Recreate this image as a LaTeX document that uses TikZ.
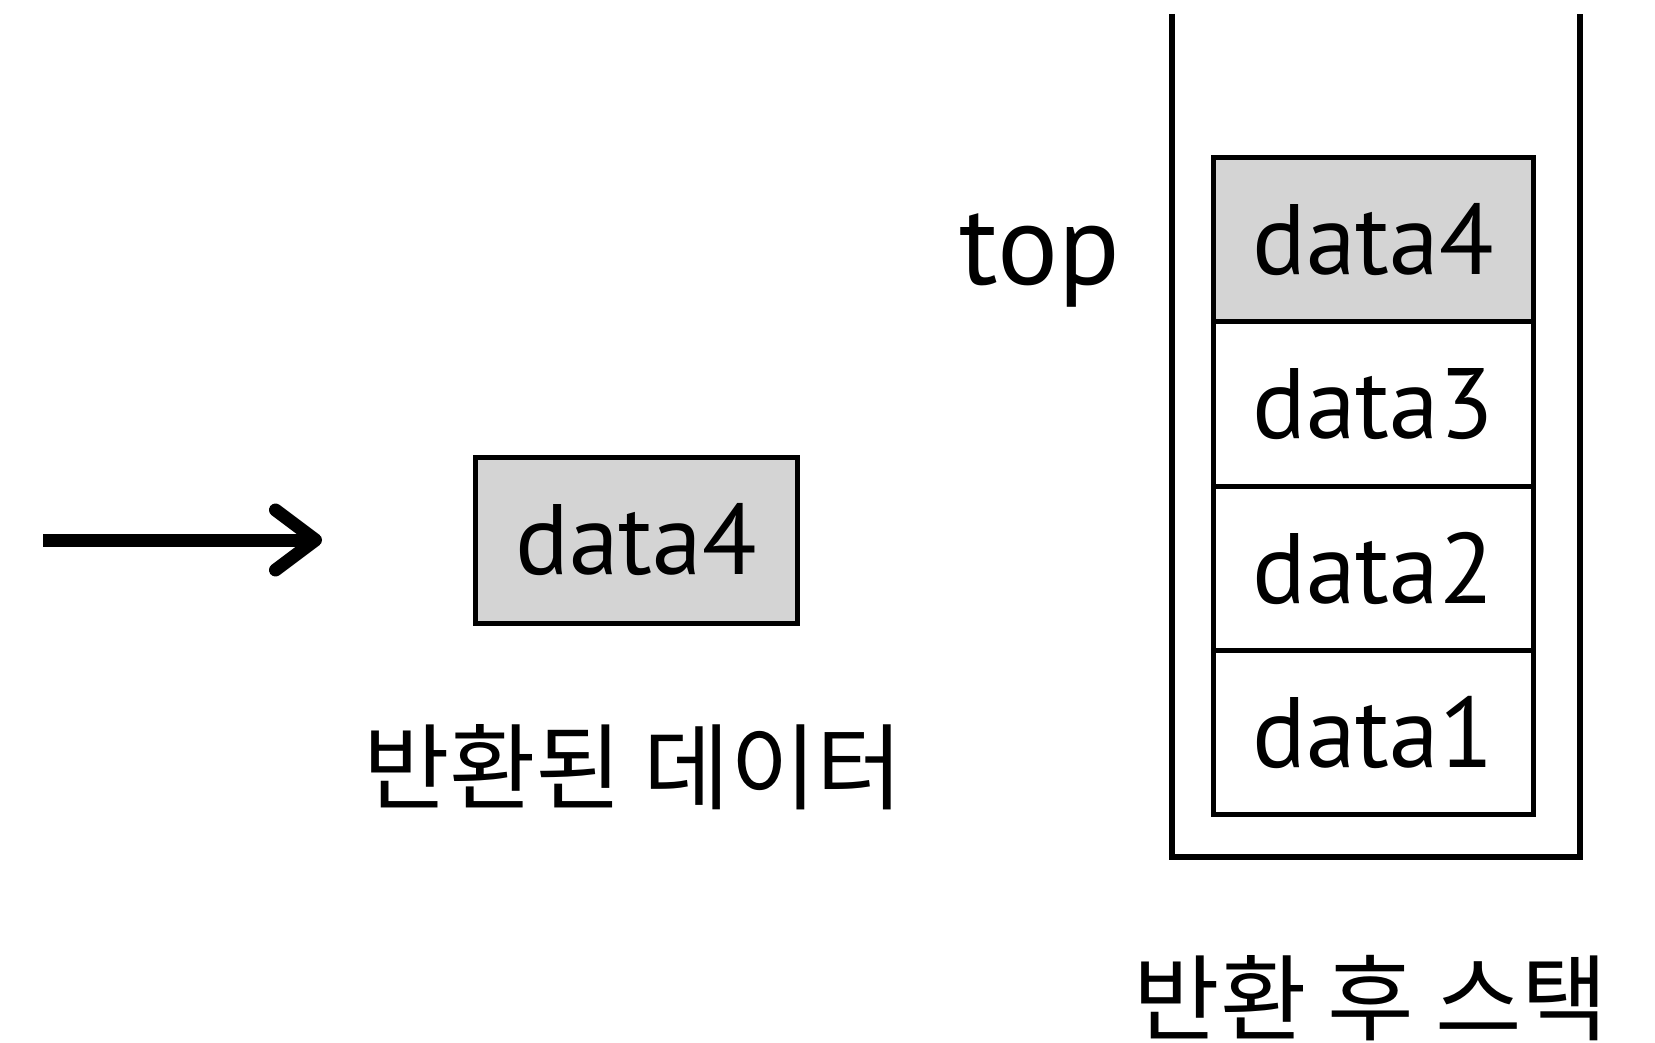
\documentclass[tikz,border=0pt]{standalone}
\usepackage{fontspec}
\setmainfont{PT Sans}
\newfontfamily\kofont{Noto Sans CJK KR}
\usetikzlibrary{arrows.meta}
\begin{document}
\begin{tikzpicture}[x=0.5pt,y=-0.5pt,
  cell/.style={draw=black,line width=2.5pt,minimum width=160pt,minimum height=82pt,
    inner sep=0pt,outer sep=0pt,font=\fontsize{50}{56}\selectfont},
  popped/.style={cell,fill=black!17},
  wall/.style={line width=2.6pt},
  label/.style={font=\kofont\fontsize{47}{52}\selectfont,inner sep=0pt}]
\useasboundingbox (0,0) rectangle (1655,1043);

% stack container (open at the top)
\coordinate (wtl) at (1172,14);
\coordinate (wbl) at (1172,857);
\coordinate (wbr) at (1580,857);
\coordinate (wtr) at (1580,14);
\draw[wall] (wtl) -- (wbl) -- (wbr) -- (wtr);

% stack cells
\node[popped] (s4) at (1373,240) {data4};
\node[cell,anchor=north] (s3) at (s4.south) {data3};
\node[cell,anchor=north] (s2) at (s3.south) {data2};
\node[cell,anchor=north] (s1) at (s2.south) {data1};

\node[font=\fontsize{57}{62}\selectfont,inner sep=0pt] (top) at (1040,260) {top};

% returned element
\node[popped,minimum width=161pt,minimum height=83pt] (ret) at (636,540) {data4};

% incoming arrow
\coordinate (a0) at (43,540);
\coordinate (a1) at (322,540);
\draw[line width=6.5pt,-{Straight Barb[length=20pt,width=30pt,line width=6.5pt,round]}] (a0) -- (a1);

\node[label] (retlbl) at (633,767) {반환된 데이터};
\node[label] (stklbl) at (1371,998) {반환 후 스택};
\end{tikzpicture}
\end{document}
